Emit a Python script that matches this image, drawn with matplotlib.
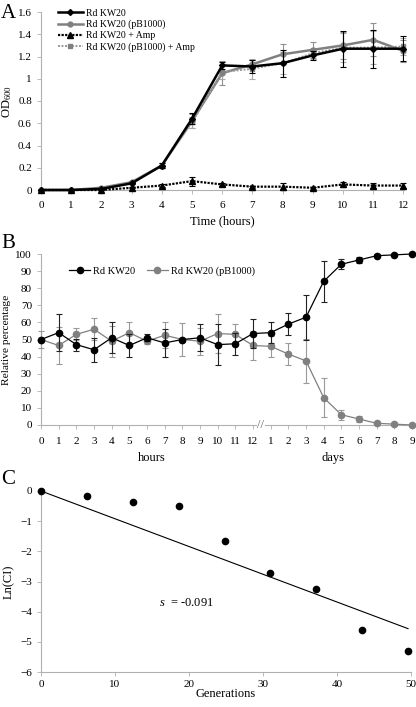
import matplotlib
matplotlib.use("Agg")
import matplotlib.pyplot as plt
from matplotlib.lines import Line2D
import numpy as np

plt.rcParams['font.family'] = ['Liberation Serif', 'DejaVu Serif']
plt.rcParams['mathtext.fontset'] = 'custom'
plt.rcParams['mathtext.rm'] = 'Liberation Serif'
plt.rcParams['mathtext.it'] = 'Liberation Serif:italic'

# ---------------- Panel A data ----------------
hours_a = [0, 1, 2, 3, 4, 5, 6, 7, 8, 9, 10, 11, 12]
kw20 = [0, 0, 0.01, 0.06, 0.22, 0.64, 1.12, 1.11, 1.14, 1.21, 1.27, 1.27, 1.27]
kw20_err = [0, 0, 0.005, 0.01, 0.02, 0.05, 0.03, 0.06, 0.12, 0.04, 0.16, 0.17, 0.11]
pb = [0, 0, 0.02, 0.07, 0.22, 0.62, 1.05, 1.13, 1.22, 1.26, 1.30, 1.35, 1.25]
pb_err = [0, 0, 0.005, 0.01, 0.02, 0.06, 0.11, 0.04, 0.09, 0.07, 0.12, 0.15, 0.10]
kw20_amp = [0, 0, 0, 0.02, 0.04, 0.08, 0.05, 0.03, 0.03, 0.02, 0.05, 0.04, 0.04]
kw20_amp_err = [0, 0, 0, 0.005, 0.01, 0.04, 0.01, 0.01, 0.03, 0.01, 0.02, 0.02, 0.02]
pb_amp = [0, 0, 0.01, 0.06, 0.22, 0.61, 1.06, 1.09, 1.14, 1.23, 1.28, 1.28, 1.29]
pb_amp_err = [0, 0, 0.005, 0.01, 0.02, 0.05, 0.06, 0.09, 0.10, 0.05, 0.13, 0.15, 0.08]

# ---------------- Panel B data ----------------
b_labels = ['0', '1', '2', '3', '4', '5', '6', '7', '8', '9', '10', '11', '12',
            '1', '2', '3', '4', '5', '6', '7', '8', '9']
b_kw20 = [50, 54, 47, 44, 51, 46.5, 51, 48, 50, 51, 47, 47.5, 53.5,
          54, 59, 63, 84, 94, 96.5, 99, 99.5, 100]
b_kw20_err = [0, 11, 3.5, 7, 9, 7, 2, 8, 0, 8, 12, 6.5, 8.5,
              6, 6.5, 13, 12, 3, 1.5, 1, 0.5, 0]
b_pb = [50, 46.5, 53, 56, 49, 54, 49, 52.5, 50, 49, 53.5, 53, 46.5,
        46, 41.5, 37.5, 16, 6, 3.5, 1, 0.5, 0]
b_pb_err = [5, 11, 3.5, 6.5, 9, 6.5, 1.5, 7.5, 9.5, 8, 11.5, 6, 8.5,
            6, 6.5, 13, 11.5, 3, 1.5, 1, 0.5, 0]

# ---------------- Panel C data ----------------
gens = [0, 6.2, 12.4, 18.6, 24.8, 31.0, 37.2, 43.4, 49.6]
ln_ci = [0, -0.15, -0.35, -0.5, -1.65, -2.72, -3.25, -4.6, -5.3]
s_val = -0.092

W, H = 416, 707
fig = plt.figure(figsize=(W / 100, H / 100), dpi=100)

def axes_px(left, top, right, bottom):
    return fig.add_axes([left / W, 1 - bottom / H, (right - left) / W, (bottom - top) / H])

spine_col = '#b0b0b0'
tick_fs = 8
lab_fs = 9

def style(ax):
    for s in ['top', 'right']:
        ax.spines[s].set_visible(False)
    for s in ['left', 'bottom']:
        ax.spines[s].set_color(spine_col)
        ax.spines[s].set_linewidth(0.8)
    ax.tick_params(colors=spine_col, labelcolor='black', labelsize=tick_fs,
                   length=3, width=0.6, direction='out')

# ---------------- Panel A ----------------
axA = axes_px(41, 12, 404, 190)
style(axA)
axA.errorbar(hours_a, kw20, yerr=kw20_err, color='black', marker='D', ms=3,
             lw=1.8, capsize=2, elinewidth=0.8, capthick=0.8, zorder=4)
axA.errorbar(hours_a, pb, yerr=pb_err, color='#808080', marker='o', ms=3.5,
             lw=1.8, capsize=2, elinewidth=0.8, capthick=0.8, ecolor='#909090', zorder=3)
axA.errorbar(hours_a, kw20_amp, yerr=kw20_amp_err, color='black', marker='^', ms=4,
             lw=1.6, ls=(0, (1, 0.6)), capsize=2, elinewidth=0.8, capthick=0.8, zorder=5)
axA.errorbar(hours_a, pb_amp, yerr=pb_amp_err, color='#999999', marker='s', ms=3.5,
             mfc='#808080', mec='#808080', lw=1.4, ls=(0, (1, 0.8)), capsize=2,
             elinewidth=0.8, capthick=0.8, ecolor='#aaaaaa', zorder=3)
axA.set_xlim(0, 12.02)
axA.set_ylim(0, 1.6)
axA.set_xticks(range(0, 13))
axA.set_yticks([0, 0.2, 0.4, 0.6, 0.8, 1.0, 1.2, 1.4, 1.6])
axA.set_yticklabels(['0', '0.2', '0.4', '0.6', '0.8', '1', '1.2', '1.4', '1.6'])
axA.tick_params(axis='x', pad=5)
axA.set_xlabel('Time (hours)', fontsize=lab_fs, labelpad=4)
axA.set_ylabel('OD$_{600}$', fontsize=lab_fs, labelpad=3)
for ln in axA.get_lines():
    ln.set_clip_on(False)
handlesA = [
    Line2D([], [], color='black', marker='D', ms=3, lw=1.8),
    Line2D([], [], color='#808080', marker='o', ms=3.5, lw=1.8),
    Line2D([], [], color='black', marker='^', ms=4, lw=1.6, ls=(0, (1, 0.6))),
    Line2D([], [], color='#999999', marker='s', ms=3.5, mfc='#808080', mec='#808080',
           lw=1.4, ls=(0, (1, 0.8))),
]
labelsA = ['Rd KW20', 'Rd KW20 (pB1000)', 'Rd KW20 + Amp', 'Rd KW20 (pB1000) + Amp']
axA.legend(handlesA, labelsA, loc='upper left', bbox_to_anchor=(0.035, 1.04), fontsize=7,
           frameon=False, handlelength=2.6, handletextpad=0.3,
           labelspacing=0.2, borderaxespad=0)
fig.text(1 / W, 1 - 13 / H, 'A', fontsize=15, va='center', ha='left')

# ---------------- Panel B ----------------
axB = axes_px(41, 254, 412, 425)
style(axB)
xb = np.arange(len(b_labels))
axB.errorbar(xb, b_pb, yerr=b_pb_err, color='#808080', marker='o', ms=4.5,
             lw=0.9, capsize=2, elinewidth=0.8, capthick=0.8, ecolor='#999999',
             zorder=3, clip_on=False)
axB.errorbar(xb, b_kw20, yerr=b_kw20_err, color='black', marker='o', ms=4.5,
             lw=0.9, capsize=2, elinewidth=0.8, capthick=0.8, ecolor='#222222',
             zorder=4, clip_on=False)
axB.set_xlim(0, 21)
axB.set_ylim(0, 100)
axB.set_xticks(xb)
axB.set_xticklabels(b_labels)
axB.tick_params(axis='x', pad=6)
axB.set_yticks(range(0, 101, 10))
axB.set_ylabel('Relative percentage', fontsize=8.2, labelpad=3)
handlesB = [Line2D([], [], color='black', marker='o', ms=4.5, lw=0.9),
            Line2D([], [], color='#808080', marker='o', ms=4.5, lw=0.9)]
axB.legend(handlesB, ['Rd KW20', 'Rd KW20 (pB1000)'], loc='upper left',
           bbox_to_anchor=(0.065, 0.95), ncol=2, fontsize=7.5, frameon=False,
           handlelength=2.0, handletextpad=0.3, columnspacing=1.1, borderaxespad=0)
axB.text(12.45, 0, '//', fontsize=9, ha='center', va='center', color='#666666',
         transform=axB.transData, bbox=dict(facecolor='white', edgecolor='none', pad=0.5),
         clip_on=False, zorder=6)
fig.text(152 / W, 1 - 458 / H, 'hours', fontsize=lab_fs, ha='center', va='center')
fig.text(333 / W, 1 - 458 / H, 'days', fontsize=lab_fs, ha='center', va='center')
fig.text(1 / W, 1 - 244 / H, 'B', fontsize=15, va='center', ha='left')

# ---------------- Panel C ----------------
axC = axes_px(41, 491, 411, 672)
style(axC)
axC.plot(gens, ln_ci, 'o', color='black', ms=4.5, clip_on=False, zorder=4)
fit_x = np.array([gens[0], gens[-1]])
axC.plot(fit_x, s_val * fit_x, color='black', lw=0.8, clip_on=False)
axC.set_xlim(0, 50)
axC.set_ylim(-6, 0)
axC.set_xticks(range(0, 51, 10))
axC.set_yticks(range(-6, 1))
axC.tick_params(axis='x', pad=3)
axC.set_xlabel('Generations', fontsize=lab_fs, labelpad=-1)
axC.set_ylabel('Ln(CI)', fontsize=lab_fs, labelpad=4)
axC.text(16.0, -3.7, r'$s$  = -0.091', fontsize=9, va='center', ha='left')
fig.text(1 / W, 1 - 480 / H, 'C', fontsize=15, va='center', ha='left')

fig.savefig('out.png', dpi=100)
